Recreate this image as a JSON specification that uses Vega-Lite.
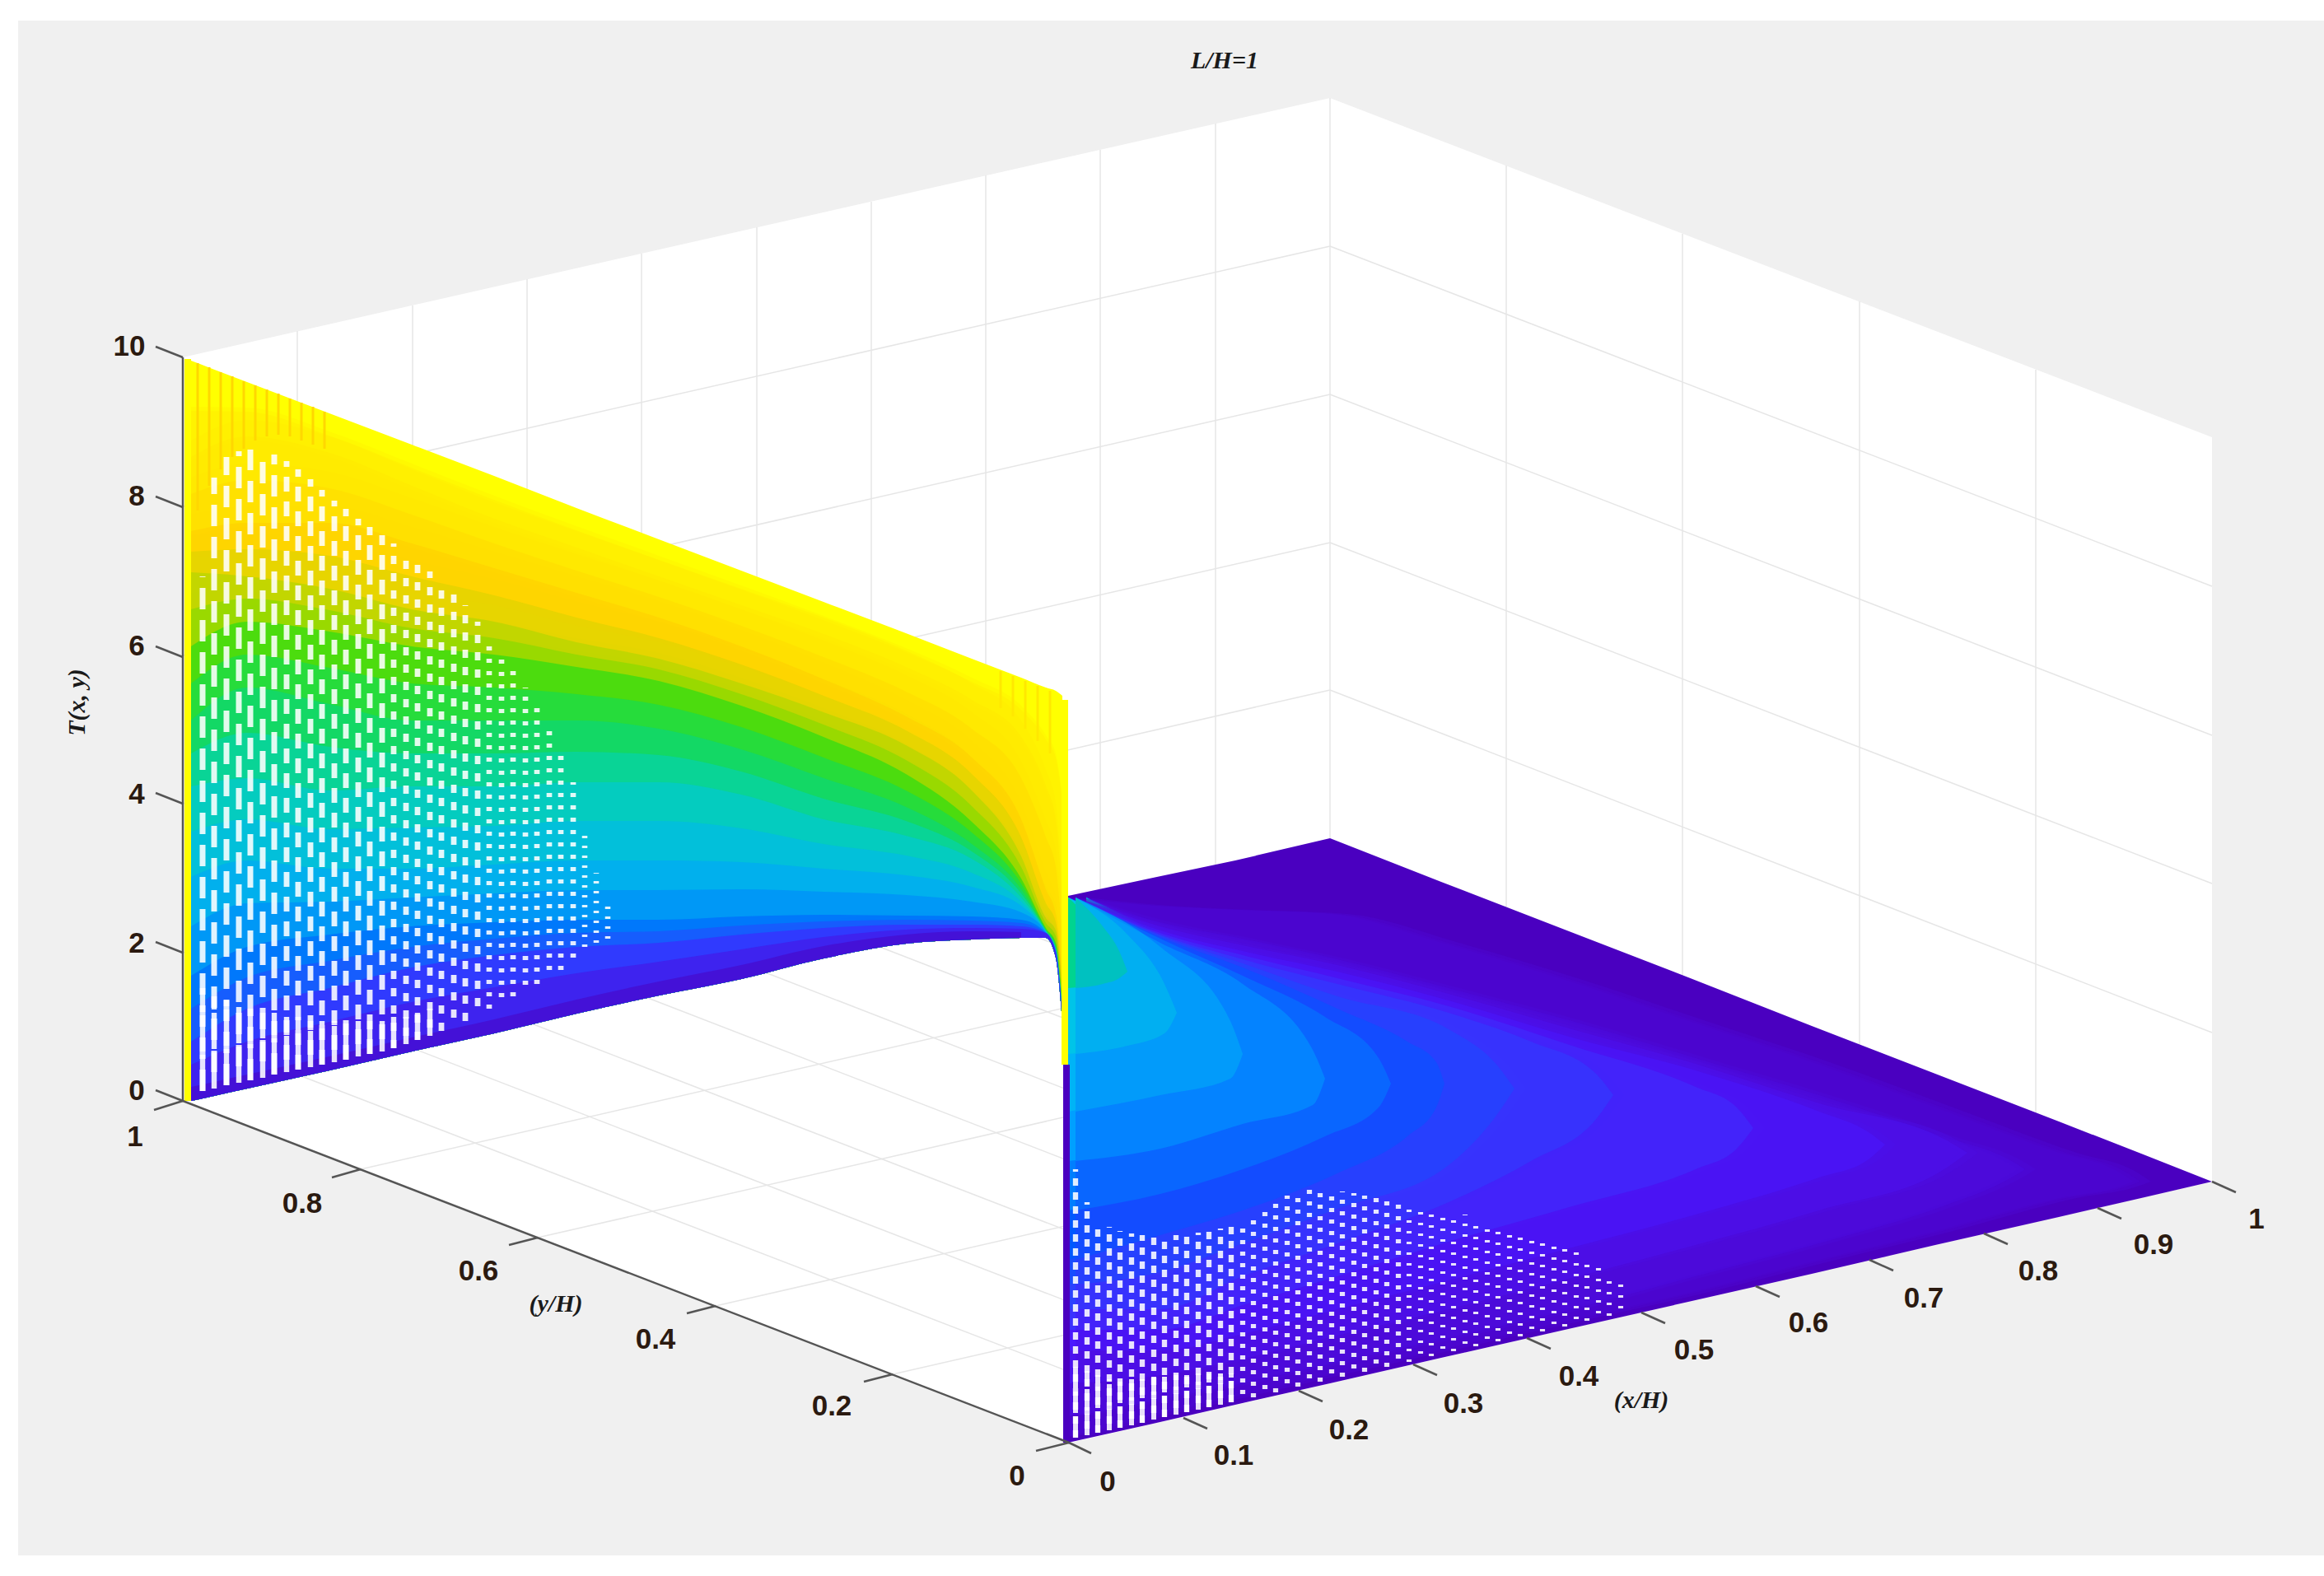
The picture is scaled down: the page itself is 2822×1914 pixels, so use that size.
{"$schema":"https://vega.github.io/schema/vega-lite/v6.json","width":2822,"height":1914,"padding":0,"autosize":{"type":"fit","contains":"padding"},"background":"white","config":{"view":{"stroke":null}},
"datasets":{
"wall":[
{"T":10,"u":232,"v":438,"w":1337},{"T":10,"u":300,"v":464,"w":1322},{"T":10,"u":400,"v":502,"w":1300},{"T":10,"u":500,"v":540,"w":1277},{"T":10,"u":600,"v":578,"w":1255},{"T":10,"u":700,"v":617,"w":1231},{"T":10,"u":800,"v":655,"w":1209},{"T":10,"u":900,"v":693,"w":1189},{"T":10,"u":1000,"v":731,"w":1164},{"T":10,"u":1100,"v":769,"w":1146},{"T":10,"u":1180,"v":800,"w":1141},{"T":10,"u":1240,"v":823,"w":1139},{"T":10,"u":1270,"v":835,"w":1139},{"T":10,"u":1282,"v":839,"w":1163},{"T":10,"u":1290,"v":845,"w":1239},
{"T":9.5,"u":232,"v":499,"w":1337},{"T":9.5,"u":300,"v":500,"w":1322},{"T":9.5,"u":400,"v":529,"w":1300},{"T":9.5,"u":500,"v":568,"w":1277},{"T":9.5,"u":600,"v":607,"w":1255},{"T":9.5,"u":700,"v":644,"w":1231},{"T":9.5,"u":800,"v":680,"w":1209},{"T":9.5,"u":900,"v":716,"w":1189},{"T":9.5,"u":1000,"v":753,"w":1164},{"T":9.5,"u":1100,"v":792,"w":1146},{"T":9.5,"u":1180,"v":828,"w":1141},{"T":9.5,"u":1240,"v":862,"w":1139},{"T":9.5,"u":1270,"v":898,"w":1139},{"T":9.5,"u":1282,"v":920,"w":1163},{"T":9.5,"u":1290,"v":972,"w":1239},
{"T":9,"u":232,"v":560,"w":1337},{"T":9,"u":300,"v":535,"w":1322},{"T":9,"u":400,"v":555,"w":1300},{"T":9,"u":500,"v":595,"w":1277},{"T":9,"u":600,"v":635,"w":1255},{"T":9,"u":700,"v":670,"w":1231},{"T":9,"u":800,"v":705,"w":1209},{"T":9,"u":900,"v":740,"w":1189},{"T":9,"u":1000,"v":775,"w":1164},{"T":9,"u":1100,"v":815,"w":1146},{"T":9,"u":1180,"v":855,"w":1141},{"T":9,"u":1240,"v":900,"w":1139},{"T":9,"u":1270,"v":960,"w":1139},{"T":9,"u":1282,"v":1000,"w":1163},{"T":9,"u":1290,"v":1100,"w":1239},
{"T":8.5,"u":232,"v":605,"w":1337},{"T":8.5,"u":300,"v":588,"w":1322},{"T":8.5,"u":400,"v":598,"w":1300},{"T":8.5,"u":500,"v":630,"w":1277},{"T":8.5,"u":600,"v":665,"w":1255},{"T":8.5,"u":700,"v":698,"w":1231},{"T":8.5,"u":800,"v":730,"w":1209},{"T":8.5,"u":900,"v":765,"w":1189},{"T":8.5,"u":1000,"v":803,"w":1164},{"T":8.5,"u":1100,"v":845,"w":1146},{"T":8.5,"u":1180,"v":890,"w":1141},{"T":8.5,"u":1240,"v":950,"w":1139},{"T":8.5,"u":1270,"v":1022,"w":1139},{"T":8.5,"u":1282,"v":1058,"w":1163},{"T":8.5,"u":1290,"v":1145,"w":1239},
{"T":8,"u":232,"v":650,"w":1337},{"T":8,"u":300,"v":640,"w":1322},{"T":8,"u":400,"v":640,"w":1300},{"T":8,"u":500,"v":665,"w":1277},{"T":8,"u":600,"v":695,"w":1255},{"T":8,"u":700,"v":725,"w":1231},{"T":8,"u":800,"v":755,"w":1209},{"T":8,"u":900,"v":790,"w":1189},{"T":8,"u":1000,"v":830,"w":1164},{"T":8,"u":1100,"v":875,"w":1146},{"T":8,"u":1180,"v":925,"w":1141},{"T":8,"u":1240,"v":1000,"w":1139},{"T":8,"u":1270,"v":1085,"w":1139},{"T":8,"u":1282,"v":1115,"w":1163},{"T":8,"u":1290,"v":1190,"w":1239},
{"T":7.5,"u":232,"v":675,"w":1337},{"T":7.5,"u":300,"v":672,"w":1322},{"T":7.5,"u":400,"v":680,"w":1300},{"T":7.5,"u":500,"v":705,"w":1277},{"T":7.5,"u":600,"v":728,"w":1255},{"T":7.5,"u":700,"v":755,"w":1231},{"T":7.5,"u":800,"v":780,"w":1209},{"T":7.5,"u":900,"v":812,"w":1189},{"T":7.5,"u":1000,"v":850,"w":1164},{"T":7.5,"u":1100,"v":892,"w":1146},{"T":7.5,"u":1180,"v":945,"w":1141},{"T":7.5,"u":1240,"v":1022,"w":1139},{"T":7.5,"u":1270,"v":1102,"w":1139},{"T":7.5,"u":1282,"v":1125,"w":1163},{"T":7.5,"u":1290,"v":1200,"w":1239},
{"T":7,"u":232,"v":700,"w":1337},{"T":7,"u":300,"v":705,"w":1322},{"T":7,"u":400,"v":720,"w":1300},{"T":7,"u":500,"v":745,"w":1277},{"T":7,"u":600,"v":760,"w":1255},{"T":7,"u":700,"v":785,"w":1231},{"T":7,"u":800,"v":805,"w":1209},{"T":7,"u":900,"v":835,"w":1189},{"T":7,"u":1000,"v":870,"w":1164},{"T":7,"u":1100,"v":910,"w":1146},{"T":7,"u":1180,"v":965,"w":1141},{"T":7,"u":1240,"v":1045,"w":1139},{"T":7,"u":1270,"v":1120,"w":1139},{"T":7,"u":1282,"v":1135,"w":1163},{"T":7,"u":1290,"v":1210,"w":1239},
{"T":6.5,"u":232,"v":745,"w":1337},{"T":6.5,"u":300,"v":732,"w":1322},{"T":6.5,"u":400,"v":746,"w":1300},{"T":6.5,"u":500,"v":768,"w":1277},{"T":6.5,"u":600,"v":780,"w":1255},{"T":6.5,"u":700,"v":800,"w":1231},{"T":6.5,"u":800,"v":818,"w":1209},{"T":6.5,"u":900,"v":848,"w":1189},{"T":6.5,"u":1000,"v":885,"w":1164},{"T":6.5,"u":1100,"v":928,"w":1146},{"T":6.5,"u":1180,"v":984,"w":1141},{"T":6.5,"u":1240,"v":1058,"w":1139},{"T":6.5,"u":1270,"v":1126,"w":1139},{"T":6.5,"u":1282,"v":1142,"w":1163},{"T":6.5,"u":1290,"v":1217,"w":1239},
{"T":6,"u":232,"v":790,"w":1337},{"T":6,"u":300,"v":760,"w":1322},{"T":6,"u":400,"v":772,"w":1300},{"T":6,"u":500,"v":790,"w":1277},{"T":6,"u":600,"v":800,"w":1255},{"T":6,"u":700,"v":815,"w":1231},{"T":6,"u":800,"v":832,"w":1209},{"T":6,"u":900,"v":862,"w":1189},{"T":6,"u":1000,"v":900,"w":1164},{"T":6,"u":1100,"v":945,"w":1146},{"T":6,"u":1180,"v":1003,"w":1141},{"T":6,"u":1240,"v":1072,"w":1139},{"T":6,"u":1270,"v":1132,"w":1139},{"T":6,"u":1282,"v":1150,"w":1163},{"T":6,"u":1290,"v":1225,"w":1239},
{"T":5.5,"u":232,"v":835,"w":1337},{"T":5.5,"u":300,"v":800,"w":1322},{"T":5.5,"u":400,"v":816,"w":1300},{"T":5.5,"u":500,"v":835,"w":1277},{"T":5.5,"u":600,"v":840,"w":1255},{"T":5.5,"u":700,"v":848,"w":1231},{"T":5.5,"u":800,"v":861,"w":1209},{"T":5.5,"u":900,"v":888,"w":1189},{"T":5.5,"u":1000,"v":925,"w":1164},{"T":5.5,"u":1100,"v":965,"w":1146},{"T":5.5,"u":1180,"v":1016,"w":1141},{"T":5.5,"u":1240,"v":1078,"w":1139},{"T":5.5,"u":1270,"v":1133,"w":1139},{"T":5.5,"u":1282,"v":1152,"w":1163},{"T":5.5,"u":1290,"v":1227,"w":1239},
{"T":5,"u":232,"v":880,"w":1337},{"T":5,"u":300,"v":840,"w":1322},{"T":5,"u":400,"v":860,"w":1300},{"T":5,"u":500,"v":880,"w":1277},{"T":5,"u":600,"v":880,"w":1255},{"T":5,"u":700,"v":880,"w":1231},{"T":5,"u":800,"v":890,"w":1209},{"T":5,"u":900,"v":915,"w":1189},{"T":5,"u":1000,"v":950,"w":1164},{"T":5,"u":1100,"v":985,"w":1146},{"T":5,"u":1180,"v":1030,"w":1141},{"T":5,"u":1240,"v":1085,"w":1139},{"T":5,"u":1270,"v":1135,"w":1139},{"T":5,"u":1282,"v":1155,"w":1163},{"T":5,"u":1290,"v":1230,"w":1239},
{"T":4.5,"u":232,"v":920,"w":1337},{"T":4.5,"u":300,"v":895,"w":1322},{"T":4.5,"u":400,"v":912,"w":1300},{"T":4.5,"u":500,"v":920,"w":1277},{"T":4.5,"u":600,"v":920,"w":1255},{"T":4.5,"u":700,"v":918,"w":1231},{"T":4.5,"u":800,"v":922,"w":1209},{"T":4.5,"u":900,"v":942,"w":1189},{"T":4.5,"u":1000,"v":975,"w":1164},{"T":4.5,"u":1100,"v":1002,"w":1146},{"T":4.5,"u":1180,"v":1039,"w":1141},{"T":4.5,"u":1240,"v":1090,"w":1139},{"T":4.5,"u":1270,"v":1135,"w":1139},{"T":4.5,"u":1282,"v":1156,"w":1163},{"T":4.5,"u":1290,"v":1231,"w":1239},
{"T":4,"u":232,"v":960,"w":1337},{"T":4,"u":300,"v":950,"w":1322},{"T":4,"u":400,"v":965,"w":1300},{"T":4,"u":500,"v":960,"w":1277},{"T":4,"u":600,"v":960,"w":1255},{"T":4,"u":700,"v":955,"w":1231},{"T":4,"u":800,"v":955,"w":1209},{"T":4,"u":900,"v":970,"w":1189},{"T":4,"u":1000,"v":1000,"w":1164},{"T":4,"u":1100,"v":1020,"w":1146},{"T":4,"u":1180,"v":1048,"w":1141},{"T":4,"u":1240,"v":1095,"w":1139},{"T":4,"u":1270,"v":1136,"w":1139},{"T":4,"u":1282,"v":1157,"w":1163},{"T":4,"u":1290,"v":1232,"w":1239},
{"T":3.5,"u":232,"v":1015,"w":1337},{"T":3.5,"u":300,"v":1000,"w":1322},{"T":3.5,"u":400,"v":1012,"w":1300},{"T":3.5,"u":500,"v":1010,"w":1277},{"T":3.5,"u":600,"v":1008,"w":1255},{"T":3.5,"u":700,"v":1002,"w":1231},{"T":3.5,"u":800,"v":1002,"w":1209},{"T":3.5,"u":900,"v":1011,"w":1189},{"T":3.5,"u":1000,"v":1030,"w":1164},{"T":3.5,"u":1100,"v":1044,"w":1146},{"T":3.5,"u":1180,"v":1065,"w":1141},{"T":3.5,"u":1240,"v":1100,"w":1139},{"T":3.5,"u":1270,"v":1136,"w":1139},{"T":3.5,"u":1282,"v":1158,"w":1163},{"T":3.5,"u":1290,"v":1233,"w":1239},
{"T":3,"u":232,"v":1070,"w":1337},{"T":3,"u":300,"v":1050,"w":1322},{"T":3,"u":400,"v":1060,"w":1300},{"T":3,"u":500,"v":1060,"w":1277},{"T":3,"u":600,"v":1055,"w":1255},{"T":3,"u":700,"v":1050,"w":1231},{"T":3,"u":800,"v":1050,"w":1209},{"T":3,"u":900,"v":1052,"w":1189},{"T":3,"u":1000,"v":1060,"w":1164},{"T":3,"u":1100,"v":1068,"w":1146},{"T":3,"u":1180,"v":1082,"w":1141},{"T":3,"u":1240,"v":1105,"w":1139},{"T":3,"u":1270,"v":1137,"w":1139},{"T":3,"u":1282,"v":1159,"w":1163},{"T":3,"u":1290,"v":1234,"w":1239},
{"T":2.5,"u":232,"v":1130,"w":1337},{"T":2.5,"u":300,"v":1102,"w":1322},{"T":2.5,"u":400,"v":1100,"w":1300},{"T":2.5,"u":500,"v":1095,"w":1277},{"T":2.5,"u":600,"v":1090,"w":1255},{"T":2.5,"u":700,"v":1086,"w":1231},{"T":2.5,"u":800,"v":1086,"w":1209},{"T":2.5,"u":900,"v":1085,"w":1189},{"T":2.5,"u":1000,"v":1088,"w":1164},{"T":2.5,"u":1100,"v":1092,"w":1146},{"T":2.5,"u":1180,"v":1100,"w":1141},{"T":2.5,"u":1240,"v":1113,"w":1139},{"T":2.5,"u":1270,"v":1137,"w":1139},{"T":2.5,"u":1282,"v":1159,"w":1163},{"T":2.5,"u":1290,"v":1235,"w":1239},
{"T":2,"u":232,"v":1190,"w":1337},{"T":2,"u":300,"v":1155,"w":1322},{"T":2,"u":400,"v":1140,"w":1300},{"T":2,"u":500,"v":1130,"w":1277},{"T":2,"u":600,"v":1125,"w":1255},{"T":2,"u":700,"v":1122,"w":1231},{"T":2,"u":800,"v":1122,"w":1209},{"T":2,"u":900,"v":1118,"w":1189},{"T":2,"u":1000,"v":1116,"w":1164},{"T":2,"u":1100,"v":1117,"w":1146},{"T":2,"u":1180,"v":1118,"w":1141},{"T":2,"u":1240,"v":1122,"w":1139},{"T":2,"u":1270,"v":1138,"w":1139},{"T":2,"u":1282,"v":1160,"w":1163},{"T":2,"u":1290,"v":1236,"w":1239},
{"T":1.5,"u":232,"v":1230,"w":1337},{"T":1.5,"u":300,"v":1192,"w":1322},{"T":1.5,"u":400,"v":1172,"w":1300},{"T":1.5,"u":500,"v":1155,"w":1277},{"T":1.5,"u":600,"v":1145,"w":1255},{"T":1.5,"u":700,"v":1138,"w":1231},{"T":1.5,"u":800,"v":1136,"w":1209},{"T":1.5,"u":900,"v":1129,"w":1189},{"T":1.5,"u":1000,"v":1124,"w":1164},{"T":1.5,"u":1100,"v":1122,"w":1146},{"T":1.5,"u":1180,"v":1123,"w":1141},{"T":1.5,"u":1240,"v":1126,"w":1139},{"T":1.5,"u":1270,"v":1138,"w":1139},{"T":1.5,"u":1282,"v":1160,"w":1163},{"T":1.5,"u":1290,"v":1236,"w":1239},
{"T":1,"u":232,"v":1270,"w":1337},{"T":1,"u":300,"v":1230,"w":1322},{"T":1,"u":400,"v":1205,"w":1300},{"T":1,"u":500,"v":1180,"w":1277},{"T":1,"u":600,"v":1165,"w":1255},{"T":1,"u":700,"v":1155,"w":1231},{"T":1,"u":800,"v":1150,"w":1209},{"T":1,"u":900,"v":1140,"w":1189},{"T":1,"u":1000,"v":1132,"w":1164},{"T":1,"u":1100,"v":1128,"w":1146},{"T":1,"u":1180,"v":1128,"w":1141},{"T":1,"u":1240,"v":1130,"w":1139},{"T":1,"u":1270,"v":1138,"w":1139},{"T":1,"u":1282,"v":1161,"w":1163},{"T":1,"u":1290,"v":1237,"w":1239},
{"T":0.5,"u":232,"v":1298,"w":1337},{"T":0.5,"u":300,"v":1270,"w":1322},{"T":0.5,"u":400,"v":1246,"w":1300},{"T":0.5,"u":500,"v":1222,"w":1277},{"T":0.5,"u":600,"v":1204,"w":1255},{"T":0.5,"u":700,"v":1187,"w":1231},{"T":0.5,"u":800,"v":1173,"w":1209},{"T":0.5,"u":900,"v":1158,"w":1189},{"T":0.5,"u":1000,"v":1143,"w":1164},{"T":0.5,"u":1100,"v":1134,"w":1146},{"T":0.5,"u":1180,"v":1132,"w":1141},{"T":0.5,"u":1240,"v":1133,"w":1139},{"T":0.5,"u":1270,"v":1138,"w":1139},{"T":0.5,"u":1282,"v":1162,"w":1163},{"T":0.5,"u":1290,"v":1238,"w":1239},
{"T":0,"u":232,"v":1325,"w":1337},{"T":0,"u":300,"v":1310,"w":1322},{"T":0,"u":400,"v":1288,"w":1300},{"T":0,"u":500,"v":1265,"w":1277},{"T":0,"u":600,"v":1243,"w":1255},{"T":0,"u":700,"v":1219,"w":1231},{"T":0,"u":800,"v":1197,"w":1209},{"T":0,"u":900,"v":1177,"w":1189},{"T":0,"u":1000,"v":1154,"w":1164},{"T":0,"u":1100,"v":1140,"w":1146},{"T":0,"u":1180,"v":1136,"w":1141},{"T":0,"u":1240,"v":1137,"w":1139}
],
"floor":[
{"T":0,"u":1297,"v":1088,"w":1752},{"T":0,"u":1400,"v":1066,"w":1729},{"T":0,"u":1500,"v":1045,"w":1706},{"T":0,"u":1615,"v":1018,"w":1680},{"T":0,"u":1750,"v":1071,"w":1649},{"T":0,"u":1900,"v":1129,"w":1615},{"T":0,"u":2050,"v":1187,"w":1581},{"T":0,"u":2200,"v":1246,"w":1547},{"T":0,"u":2350,"v":1304,"w":1512},{"T":0,"u":2500,"v":1362,"w":1478},{"T":0,"u":2600,"v":1401,"w":1455},{"T":0,"u":2686,"v":1435,"w":1435},
{"T":0.25,"u":1297,"v":1090,"w":1745},{"T":0.25,"u":1400,"v":1100,"w":1718},{"T":0.25,"u":1500,"v":1105,"w":1695},{"T":0.25,"u":1615,"v":1110,"w":1668},{"T":0.25,"u":1750,"v":1145,"w":1638},{"T":0.25,"u":1900,"v":1190,"w":1604},{"T":0.25,"u":2050,"v":1240,"w":1570},{"T":0.25,"u":2200,"v":1290,"w":1532},{"T":0.25,"u":2350,"v":1345,"w":1495},{"T":0.25,"u":2500,"v":1400,"w":1455},{"T":0.25,"u":2570,"v":1422,"w":1442},{"T":0.25,"u":2590,"v":1435,"w":1435},
{"T":0.5,"u":1297,"v":1090,"w":1720},{"T":0.5,"u":1400,"v":1120,"w":1700},{"T":0.5,"u":1500,"v":1140,"w":1680},{"T":0.5,"u":1615,"v":1165,"w":1655},{"T":0.5,"u":1750,"v":1200,"w":1625},{"T":0.5,"u":1900,"v":1240,"w":1590},{"T":0.5,"u":2050,"v":1285,"w":1550},{"T":0.5,"u":2200,"v":1330,"w":1510},{"T":0.5,"u":2350,"v":1380,"w":1465},{"T":0.5,"u":2430,"v":1408,"w":1432},{"T":0.5,"u":2450,"v":1420,"w":1420},
{"T":0.75,"u":1297,"v":1090,"w":1680},{"T":0.75,"u":1400,"v":1125,"w":1670},{"T":0.75,"u":1500,"v":1148,"w":1650},{"T":0.75,"u":1615,"v":1172,"w":1622},{"T":0.75,"u":1750,"v":1207,"w":1590},{"T":0.75,"u":1900,"v":1250,"w":1552},{"T":0.75,"u":2050,"v":1292,"w":1512},{"T":0.75,"u":2200,"v":1340,"w":1470},{"T":0.75,"u":2355,"v":1385,"w":1418},{"T":0.75,"u":2380,"v":1400,"w":1400},
{"T":1,"u":1297,"v":1090,"w":1640},{"T":1,"u":1400,"v":1130,"w":1640},{"T":1,"u":1500,"v":1155,"w":1620},{"T":1,"u":1615,"v":1180,"w":1590},{"T":1,"u":1750,"v":1215,"w":1555},{"T":1,"u":1900,"v":1260,"w":1515},{"T":1,"u":2050,"v":1300,"w":1475},{"T":1,"u":2200,"v":1350,"w":1430},{"T":1,"u":2260,"v":1375,"w":1408},{"T":1,"u":2280,"v":1390,"w":1390},
{"T":1.25,"u":1297,"v":1090,"w":1615},{"T":1.25,"u":1400,"v":1133,"w":1615},{"T":1.25,"u":1500,"v":1160,"w":1585},{"T":1.25,"u":1615,"v":1188,"w":1550},{"T":1.25,"u":1750,"v":1222,"w":1508},{"T":1.25,"u":1900,"v":1270,"w":1465},{"T":1.25,"u":2050,"v":1320,"w":1420},{"T":1.25,"u":2100,"v":1345,"w":1395},{"T":1.25,"u":2120,"v":1370,"w":1370},
{"T":1.5,"u":1297,"v":1090,"w":1590},{"T":1.5,"u":1400,"v":1135,"w":1590},{"T":1.5,"u":1500,"v":1165,"w":1550},{"T":1.5,"u":1615,"v":1195,"w":1510},{"T":1.5,"u":1750,"v":1230,"w":1460},{"T":1.5,"u":1850,"v":1265,"w":1410},{"T":1.5,"u":1930,"v":1305,"w":1358},{"T":1.5,"u":1950,"v":1330,"w":1330},
{"T":1.75,"u":1297,"v":1090,"w":1560},{"T":1.75,"u":1400,"v":1136,"w":1545},{"T":1.75,"u":1500,"v":1170,"w":1510},{"T":1.75,"u":1615,"v":1210,"w":1468},{"T":1.75,"u":1750,"v":1250,"w":1415},{"T":1.75,"u":1810,"v":1295,"w":1352},{"T":1.75,"u":1830,"v":1322,"w":1322},
{"T":2,"u":1297,"v":1090,"w":1530},{"T":2,"u":1400,"v":1138,"w":1500},{"T":2,"u":1500,"v":1175,"w":1470},{"T":2,"u":1615,"v":1225,"w":1425},{"T":2,"u":1700,"v":1265,"w":1380},{"T":2,"u":1735,"v":1290,"w":1345},{"T":2,"u":1745,"v":1316,"w":1316},
{"T":2.5,"u":1297,"v":1090,"w":1470},{"T":2.5,"u":1400,"v":1140,"w":1450},{"T":2.5,"u":1500,"v":1185,"w":1420},{"T":2.5,"u":1600,"v":1235,"w":1380},{"T":2.5,"u":1665,"v":1285,"w":1345},{"T":2.5,"u":1680,"v":1316,"w":1316},
{"T":3,"u":1297,"v":1090,"w":1410},{"T":3,"u":1400,"v":1145,"w":1395},{"T":3,"u":1500,"v":1195,"w":1365},{"T":3,"u":1585,"v":1275,"w":1342},{"T":3,"u":1600,"v":1310,"w":1310},
{"T":3.5,"u":1297,"v":1090,"w":1350},{"T":3.5,"u":1400,"v":1150,"w":1330},{"T":3.5,"u":1485,"v":1240,"w":1310},{"T":3.5,"u":1500,"v":1280,"w":1280},
{"T":4,"u":1297,"v":1090,"w":1280},{"T":4,"u":1360,"v":1135,"w":1270},{"T":4,"u":1405,"v":1195,"w":1255},{"T":4,"u":1420,"v":1230,"w":1230},
{"T":5,"u":1297,"v":1090,"w":1200},{"T":5,"u":1330,"v":1125,"w":1195},{"T":5,"u":1350,"v":1155,"w":1188},{"T":5,"u":1360,"v":1180,"w":1180}
]},
"encoding":{"x":{"field":"u","type":"quantitative","axis":null,"scale":{"domain":[0,2822],"nice":false,"zero":false}},"y":{"field":"v","type":"quantitative","axis":null,"scale":{"domain":[1914,0],"nice":false,"zero":false}}},
"layer":[
{"data":{"values":[{"u":22,"u2":2822,"v":25,"v2":1889}]},"mark":{"type":"rect","color":"#f0f0f0"},"encoding":{"x2":{"field":"u2"},"y2":{"field":"v2"}}},
{"data":{"values":[{"u":222,"v":434,"w":1337},{"u":1300,"v":190,"w":1752},{"u":1615,"v":119,"w":1680},{"u":2686,"v":531,"w":1435}]},"mark":{"type":"area","color":"white"},"encoding":{"y2":{"field":"w"}}},
{"data":{"values":[
{"u":361,"v":402,"u2":361,"v2":1305},{"u":501,"v":371,"u2":501,"v2":1273},{"u":640,"v":339,"u2":640,"v2":1241},{"u":779,"v":308,"u2":779,"v2":1209},{"u":919,"v":276,"u2":919,"v2":1177},{"u":1058,"v":245,"u2":1058,"v2":1146},{"u":1197,"v":213,"u2":1197,"v2":1114},{"u":1336,"v":182,"u2":1336,"v2":1082},{"u":1476,"v":150,"u2":1476,"v2":1050},{"u":1615,"v":119,"u2":1615,"v2":1018},
{"u":222,"v":615,"u2":1615,"v2":299},{"u":222,"v":796,"u2":1615,"v2":479},{"u":222,"v":976,"u2":1615,"v2":659},{"u":222,"v":1157,"u2":1615,"v2":838},
{"u":1615,"v":299,"u2":2686,"v2":712},{"u":1615,"v":479,"u2":2686,"v2":893},{"u":1615,"v":659,"u2":2686,"v2":1073},{"u":1615,"v":838,"u2":2686,"v2":1254},
{"u":1829,"v":201,"u2":1829,"v2":1101},{"u":2043,"v":284,"u2":2043,"v2":1185},{"u":2258,"v":366,"u2":2258,"v2":1269},{"u":2472,"v":449,"u2":2472,"v2":1352},
{"u":1084,"v":1669,"u2":2472,"v2":1352},{"u":869,"v":1586,"u2":2258,"v2":1268},{"u":653,"v":1503,"u2":2043,"v2":1185},{"u":438,"v":1420,"u2":1829,"v2":1101},
{"u":1439,"v":1720,"u2":361,"v2":1305},{"u":1577,"v":1689,"u2":501,"v2":1273},{"u":1716,"v":1657,"u2":640,"v2":1241},{"u":1854,"v":1625,"u2":779,"v2":1209},{"u":1993,"v":1594,"u2":919,"v2":1177},{"u":2132,"v":1562,"u2":1058,"v2":1146},{"u":2270,"v":1530,"u2":1197,"v2":1114},{"u":2409,"v":1498,"u2":1336,"v2":1082},{"u":2547,"v":1467,"u2":1476,"v2":1050}
]},"mark":{"type":"rule","color":"#e6e6e6","strokeWidth":1.5},"encoding":{"x2":{"field":"u2"},"y2":{"field":"v2"}}},
{"data":{"name":"wall"},"mark":{"type":"area","interpolate":"monotone"},"encoding":{"y2":{"field":"w"},"detail":{"field":"T","type":"nominal"},"color":{"field":"T","type":"quantitative","legend":null,"scale":{"domain":[0,1,2,3,4,5,6,7,8,9,10],"range":["#4a00c0","#4a18ff","#0058ff","#00a0ff","#00c4e8","#00d490","#00e01c","#a0d800","#ffcc00","#ffe800","#ffff00"]}}}},
{"data":{"name":"wall"},"transform":[{"filter":"datum.T<=9"}],"mark":{"type":"area","interpolate":"monotone","opacity":0.5,"yOffset":-25},"encoding":{"y2":{"field":"w"},"detail":{"field":"T","type":"nominal"},"color":{"field":"T","type":"quantitative","legend":null,"scale":{"domain":[0,1,2,3,4,5,6,7,8,9,10],"range":["#4a00c0","#4a18ff","#0058ff","#00a0ff","#00c4e8","#00d490","#00e01c","#a0d800","#ffcc00","#ffe800","#ffff00"]}}}},
{"data":{"name":"wall"},"transform":[{"filter":"datum.T<=9.5"}],"mark":{"type":"area","interpolate":"monotone","opacity":0.5,"yOffset":-5},"encoding":{"y2":{"field":"w"},"detail":{"field":"T","type":"nominal"},"color":{"field":"T","type":"quantitative","legend":null,"scale":{"domain":[0,1,2,3,4,5,6,7,8,9,10],"range":["#4a00c0","#4a18ff","#0058ff","#00a0ff","#00c4e8","#00d490","#00e01c","#a0d800","#ffcc00","#ffe800","#ffff00"]}}}},
{"data":{"name":"floor"},"transform":[{"filter":"datum.T==0"}],"mark":{"type":"area"},"encoding":{"y2":{"field":"w"},"color":{"value":"#4a00c0"}}},
{"data":{"name":"floor"},"transform":[{"filter":"datum.T>0"}],"mark":{"type":"area","interpolate":"monotone"},"encoding":{"y2":{"field":"w"},"detail":{"field":"T","type":"nominal"},"color":{"field":"T","type":"quantitative","legend":null,"scale":{"domain":[0,1,2,3,4,5,6,7,8,9,10],"range":["#4a00c0","#4a18ff","#0058ff","#00a0ff","#00c4e8","#00d490","#00e01c","#a0d800","#ffcc00","#ffe800","#ffff00"]}}}},
{"data":{"name":"floor"},"transform":[{"filter":"datum.T>0"}],"mark":{"type":"area","interpolate":"monotone","opacity":0.5,"xOffset":22},"encoding":{"y2":{"field":"w"},"detail":{"field":"T","type":"nominal"},"color":{"field":"T","type":"quantitative","legend":null,"scale":{"domain":[0,1,2,3,4,5,6,7,8,9,10],"range":["#4a00c0","#4a18ff","#0058ff","#00a0ff","#00c4e8","#00d490","#00e01c","#a0d800","#ffcc00","#ffe800","#ffff00"]}}}},
{"data":{"name":"floor"},"transform":[{"filter":"datum.T>0"}],"mark":{"type":"area","interpolate":"monotone","opacity":0.5,"xOffset":9},"encoding":{"y2":{"field":"w"},"detail":{"field":"T","type":"nominal"},"color":{"field":"T","type":"quantitative","legend":null,"scale":{"domain":[0,1,2,3,4,5,6,7,8,9,10],"range":["#4a00c0","#4a18ff","#0058ff","#00a0ff","#00c4e8","#00d490","#00e01c","#a0d800","#ffcc00","#ffe800","#ffff00"]}}}},
{"data":{"values":[
{"u":246,"v":1325,"z":"a"},{"u":246,"v":700,"z":"a"},{"u":260,"v":1302,"z":"a"},{"u":260,"v":580,"z":"a"},{"u":275,"v":1318,"z":"a"},{"u":275,"v":555,"z":"a"},{"u":290,"v":1295,"z":"a"},{"u":290,"v":548,"z":"a"},{"u":304,"v":1312,"z":"a"},{"u":304,"v":546,"z":"a"},{"u":319,"v":1289,"z":"a"},{"u":319,"v":548,"z":"a"},{"u":333,"v":1305,"z":"a"},{"u":333,"v":552,"z":"a"},
{"u":348,"v":1287,"z":"b"},{"u":348,"v":560,"z":"b"},{"u":362,"v":1299,"z":"b"},{"u":362,"v":570,"z":"b"},{"u":377,"v":1281,"z":"b"},{"u":377,"v":582,"z":"b"},{"u":391,"v":1293,"z":"b"},{"u":391,"v":595,"z":"b"},{"u":406,"v":1275,"z":"b"},{"u":406,"v":608,"z":"b"},{"u":420,"v":1287,"z":"b"},{"u":420,"v":618,"z":"b"},{"u":435,"v":1268,"z":"b"},{"u":435,"v":630,"z":"b"},{"u":449,"v":1280,"z":"b"},{"u":449,"v":640,"z":"b"},{"u":464,"v":1262,"z":"b"},{"u":464,"v":650,"z":"b"},
{"u":478,"v":1273,"z":"c"},{"u":478,"v":660,"z":"c"},{"u":493,"v":1258,"z":"c"},{"u":493,"v":670,"z":"c"},{"u":507,"v":1263,"z":"c"},{"u":507,"v":682,"z":"c"},{"u":522,"v":1248,"z":"c"},{"u":522,"v":694,"z":"c"},{"u":536,"v":1252,"z":"c"},{"u":536,"v":708,"z":"c"},{"u":551,"v":1236,"z":"c"},{"u":551,"v":722,"z":"c"},{"u":565,"v":1240,"z":"c"},{"u":565,"v":735,"z":"c"},{"u":580,"v":1222,"z":"c"},{"u":580,"v":755,"z":"c"},
{"u":594,"v":1225,"z":"d"},{"u":594,"v":775,"z":"d"},{"u":609,"v":1211,"z":"d"},{"u":609,"v":795,"z":"d"},{"u":623,"v":1210,"z":"d"},{"u":623,"v":815,"z":"d"},{"u":638,"v":1196,"z":"d"},{"u":638,"v":835,"z":"d"},{"u":652,"v":1195,"z":"d"},{"u":652,"v":855,"z":"d"},{"u":667,"v":1178,"z":"d"},{"u":667,"v":880,"z":"d"},{"u":681,"v":1178,"z":"d"},{"u":681,"v":910,"z":"d"},{"u":696,"v":1163,"z":"d"},{"u":696,"v":950,"z":"d"},{"u":710,"v":1150,"z":"h"},{"u":710,"v":1010,"z":"h"},{"u":724,"v":1145,"z":"h"},{"u":724,"v":1060,"z":"h"},{"u":738,"v":1140,"z":"h"},{"u":738,"v":1095,"z":"h"},
{"u":246,"v":1325,"z":"s"},{"u":246,"v":1200,"z":"s"},{"u":260,"v":1322,"z":"s"},{"u":260,"v":1210,"z":"s"},{"u":275,"v":1318,"z":"s"},{"u":275,"v":1215,"z":"s"},{"u":290,"v":1315,"z":"s"},{"u":290,"v":1220,"z":"s"},{"u":304,"v":1312,"z":"s"},{"u":304,"v":1225,"z":"s"},{"u":319,"v":1309,"z":"s"},{"u":319,"v":1230,"z":"s"},{"u":333,"v":1305,"z":"s"},{"u":333,"v":1230,"z":"s"},{"u":348,"v":1302,"z":"s"},{"u":348,"v":1235,"z":"s"},{"u":362,"v":1299,"z":"s"},{"u":362,"v":1235,"z":"s"},{"u":377,"v":1296,"z":"s"},{"u":377,"v":1240,"z":"s"},{"u":391,"v":1293,"z":"s"},{"u":391,"v":1240,"z":"s"},{"u":406,"v":1290,"z":"s"},{"u":406,"v":1240,"z":"s"},{"u":420,"v":1287,"z":"s"},{"u":420,"v":1240,"z":"s"},{"u":435,"v":1283,"z":"s"},{"u":435,"v":1240,"z":"s"},{"u":449,"v":1280,"z":"s"},{"u":449,"v":1240,"z":"s"},{"u":464,"v":1277,"z":"s"},{"u":464,"v":1240,"z":"s"},{"u":478,"v":1273,"z":"s"},{"u":478,"v":1235,"z":"s"},{"u":493,"v":1268,"z":"s"},{"u":493,"v":1235,"z":"s"},{"u":507,"v":1263,"z":"s"},{"u":507,"v":1230,"z":"s"},{"u":522,"v":1258,"z":"s"},{"u":522,"v":1225,"z":"s"},
{"u":1306,"v":1746,"z":"e"},{"u":1306,"v":1420,"z":"e"},{"u":1320,"v":1735,"z":"e"},{"u":1320,"v":1460,"z":"e"},{"u":1333,"v":1740,"z":"e"},{"u":1333,"v":1485,"z":"e"},{"u":1347,"v":1729,"z":"e"},{"u":1347,"v":1490,"z":"e"},{"u":1360,"v":1734,"z":"e"},{"u":1360,"v":1495,"z":"e"},{"u":1374,"v":1723,"z":"e"},{"u":1374,"v":1498,"z":"e"},{"u":1387,"v":1728,"z":"e"},{"u":1387,"v":1500,"z":"e"},{"u":1401,"v":1716,"z":"e"},{"u":1401,"v":1500,"z":"e"},{"u":1414,"v":1721,"z":"e"},{"u":1414,"v":1500,"z":"e"},{"u":1428,"v":1710,"z":"e"},{"u":1428,"v":1500,"z":"e"},{"u":1441,"v":1715,"z":"e"},{"u":1441,"v":1498,"z":"e"},{"u":1455,"v":1704,"z":"e"},{"u":1455,"v":1497,"z":"e"},{"u":1468,"v":1709,"z":"e"},{"u":1468,"v":1495,"z":"e"},{"u":1482,"v":1698,"z":"e"},{"u":1482,"v":1492,"z":"e"},{"u":1495,"v":1703,"z":"e"},{"u":1495,"v":1488,"z":"e"},
{"u":1509,"v":1693,"z":"f"},{"u":1509,"v":1485,"z":"f"},{"u":1522,"v":1697,"z":"f"},{"u":1522,"v":1475,"z":"f"},{"u":1536,"v":1687,"z":"f"},{"u":1536,"v":1465,"z":"f"},{"u":1549,"v":1691,"z":"f"},{"u":1549,"v":1458,"z":"f"},{"u":1563,"v":1680,"z":"f"},{"u":1563,"v":1452,"z":"f"},{"u":1576,"v":1684,"z":"f"},{"u":1576,"v":1448,"z":"f"},{"u":1590,"v":1674,"z":"f"},{"u":1590,"v":1445,"z":"f"},{"u":1603,"v":1678,"z":"f"},{"u":1603,"v":1444,"z":"f"},{"u":1617,"v":1668,"z":"f"},{"u":1617,"v":1445,"z":"f"},{"u":1630,"v":1672,"z":"f"},{"u":1630,"v":1447,"z":"f"},{"u":1644,"v":1662,"z":"f"},{"u":1644,"v":1449,"z":"f"},{"u":1657,"v":1666,"z":"f"},{"u":1657,"v":1452,"z":"f"},{"u":1671,"v":1656,"z":"f"},{"u":1671,"v":1455,"z":"f"},{"u":1684,"v":1660,"z":"f"},{"u":1684,"v":1458,"z":"f"},{"u":1698,"v":1650,"z":"f"},{"u":1698,"v":1460,"z":"f"},
{"u":1711,"v":1654,"z":"g"},{"u":1711,"v":1463,"z":"g"},{"u":1725,"v":1644,"z":"g"},{"u":1725,"v":1466,"z":"g"},{"u":1738,"v":1647,"z":"g"},{"u":1738,"v":1468,"z":"g"},{"u":1752,"v":1638,"z":"g"},{"u":1752,"v":1470,"z":"g"},{"u":1765,"v":1641,"z":"g"},{"u":1765,"v":1473,"z":"g"},{"u":1779,"v":1632,"z":"g"},{"u":1779,"v":1475,"z":"g"},{"u":1792,"v":1635,"z":"g"},{"u":1792,"v":1480,"z":"g"},{"u":1806,"v":1626,"z":"g"},{"u":1806,"v":1485,"z":"g"},{"u":1819,"v":1629,"z":"g"},{"u":1819,"v":1488,"z":"g"},{"u":1833,"v":1620,"z":"g"},{"u":1833,"v":1491,"z":"g"},{"u":1846,"v":1623,"z":"g"},{"u":1846,"v":1495,"z":"g"},{"u":1860,"v":1614,"z":"g"},{"u":1860,"v":1500,"z":"g"},{"u":1873,"v":1617,"z":"g"},{"u":1873,"v":1505,"z":"g"},{"u":1887,"v":1608,"z":"g"},{"u":1887,"v":1508,"z":"g"},{"u":1900,"v":1611,"z":"g"},{"u":1900,"v":1510,"z":"g"},{"u":1914,"v":1602,"z":"g"},{"u":1914,"v":1520,"z":"g"},{"u":1927,"v":1604,"z":"g"},{"u":1927,"v":1530,"z":"g"},{"u":1941,"v":1595,"z":"g"},{"u":1941,"v":1540,"z":"g"},{"u":1954,"v":1598,"z":"g"},{"u":1954,"v":1550,"z":"g"},{"u":1968,"v":1589,"z":"g"},{"u":1968,"v":1560,"z":"g"},
{"u":1306,"v":1746,"z":"t"},{"u":1306,"v":1660,"z":"t"},{"u":1320,"v":1743,"z":"t"},{"u":1320,"v":1665,"z":"t"},{"u":1333,"v":1740,"z":"t"},{"u":1333,"v":1670,"z":"t"},{"u":1347,"v":1737,"z":"t"},{"u":1347,"v":1675,"z":"t"},{"u":1360,"v":1734,"z":"t"},{"u":1360,"v":1675,"z":"t"},{"u":1374,"v":1731,"z":"t"},{"u":1374,"v":1675,"z":"t"},{"u":1387,"v":1728,"z":"t"},{"u":1387,"v":1675,"z":"t"},{"u":1401,"v":1724,"z":"t"},{"u":1401,"v":1672,"z":"t"},{"u":1414,"v":1721,"z":"t"},{"u":1414,"v":1672,"z":"t"},{"u":1428,"v":1718,"z":"t"},{"u":1428,"v":1670,"z":"t"},{"u":1441,"v":1715,"z":"t"},{"u":1441,"v":1670,"z":"t"},{"u":1455,"v":1712,"z":"t"},{"u":1455,"v":1668,"z":"t"},{"u":1468,"v":1709,"z":"t"},{"u":1468,"v":1668,"z":"t"},{"u":1482,"v":1706,"z":"t"},{"u":1482,"v":1668,"z":"t"},{"u":1495,"v":1703,"z":"t"},{"u":1495,"v":1668,"z":"t"}
]},"mark":{"type":"line","color":"white","opacity":0.88},"encoding":{"detail":{"field":"u","type":"nominal"},"strokeWidth":{"field":"z","type":"nominal","legend":null,"scale":{"domain":["a","b","c","d","h","s","e","f","g","t"],"range":[7,6,5,3.6,2.4,4.5,3,2.2,1.6,3.2]}},"strokeDash":{"field":"z","type":"nominal","legend":null,"scale":{"domain":["a","b","c","d","h","s","e","f","g","t"],"range":[[26,13],[18,12],[10,11],[5,10],[3,9],[44,4],[9,8],[5,9],[3,10],[26,4]]}}}},
{"data":{"values":[
{"T":8.4,"u":240,"v":441,"u2":240,"v2":620},{"T":8.4,"u":254,"v":446,"u2":254,"v2":590},{"T":8.4,"u":268,"v":452,"u2":268,"v2":570},{"T":8.4,"u":282,"v":457,"u2":282,"v2":555},{"T":8.4,"u":296,"v":463,"u2":296,"v2":545},{"T":8.4,"u":310,"v":468,"u2":310,"v2":535},{"T":8.4,"u":324,"v":473,"u2":324,"v2":530},{"T":8.4,"u":338,"v":478,"u2":338,"v2":528},{"T":8.4,"u":352,"v":484,"u2":352,"v2":530},{"T":8.4,"u":366,"v":489,"u2":366,"v2":535},{"T":8.4,"u":380,"v":494,"u2":380,"v2":540},{"T":8.4,"u":394,"v":500,"u2":394,"v2":545},
{"T":9,"u":1215,"v":815,"u2":1215,"v2":860},{"T":9,"u":1230,"v":821,"u2":1230,"v2":870},{"T":9,"u":1245,"v":827,"u2":1245,"v2":885},{"T":9,"u":1260,"v":833,"u2":1260,"v2":900},{"T":9,"u":1275,"v":839,"u2":1275,"v2":915}
]},"mark":{"type":"rule","strokeWidth":3},"encoding":{"x2":{"field":"u2"},"y2":{"field":"v2"},"color":{"field":"T","type":"quantitative","legend":null,"scale":{"domain":[0,1,2,3,4,5,6,7,8,9,10],"range":["#4a00c0","#4a18ff","#0058ff","#00a0ff","#00c4e8","#00d490","#00e01c","#a0d800","#ffcc00","#ffe800","#ffff00"]}}}},
{"data":{"values":[{"T":10,"u":228,"v":436,"u2":228,"v2":1337},{"T":10,"u":1293,"v":850,"u2":1293,"v2":1293},{"T":0,"u":1295,"v":1293,"u2":1295,"v2":1752}]},"mark":{"type":"rule","strokeWidth":8},"encoding":{"x2":{"field":"u2"},"y2":{"field":"v2"},"color":{"field":"T","type":"quantitative","legend":null,"scale":{"domain":[0,1,2,3,4,5,6,7,8,9,10],"range":["#4a00c0","#4a18ff","#0058ff","#00a0ff","#00c4e8","#00d490","#00e01c","#a0d800","#ffcc00","#ffe800","#ffff00"]}}}},
{"data":{"values":[
{"u":222,"v":434,"u2":222,"v2":1337},{"u":222,"v":1337,"u2":1298,"v2":1752},
{"u":222,"v":434,"u2":189,"v2":421},{"u":222,"v":616,"u2":189,"v2":603},{"u":222,"v":798,"u2":189,"v2":785},{"u":222,"v":976,"u2":189,"v2":963},{"u":222,"v":1157,"u2":189,"v2":1144},{"u":222,"v":1337,"u2":189,"v2":1324},
{"u":222,"v":1337,"u2":187,"v2":1348},{"u":438,"v":1420,"u2":403,"v2":1430},{"u":653,"v":1503,"u2":618,"v2":1512},{"u":869,"v":1586,"u2":834,"v2":1595},{"u":1084,"v":1669,"u2":1049,"v2":1678},{"u":1298,"v":1752,"u2":1258,"v2":1762},
{"u":1298,"v":1752,"u2":1325,"v2":1765},{"u":1437,"v":1722,"u2":1466,"v2":1735},{"u":1577,"v":1689,"u2":1606,"v2":1702},{"u":1716,"v":1657,"u2":1745,"v2":1670},{"u":1854,"v":1625,"u2":1883,"v2":1638},{"u":1993,"v":1594,"u2":2022,"v2":1607},{"u":2132,"v":1562,"u2":2161,"v2":1575},{"u":2270,"v":1530,"u2":2299,"v2":1543},{"u":2409,"v":1498,"u2":2438,"v2":1511},{"u":2547,"v":1467,"u2":2576,"v2":1480},{"u":2686,"v":1435,"u2":2715,"v2":1448}
]},"mark":{"type":"rule","color":"#555555","strokeWidth":2.5},"encoding":{"x2":{"field":"u2"},"y2":{"field":"v2"}}},
{"data":{"values":[
{"u":157,"v":421,"t":"10"},{"u":166,"v":603,"t":"8"},{"u":166,"v":785,"t":"6"},{"u":166,"v":965,"t":"4"},{"u":166,"v":1146,"t":"2"},{"u":166,"v":1325,"t":"0"},
{"u":164,"v":1381,"t":"1"},{"u":367,"v":1462,"t":"0.8"},{"u":581,"v":1544,"t":"0.6"},{"u":796,"v":1627,"t":"0.4"},{"u":1010,"v":1708,"t":"0.2"},{"u":1235,"v":1793,"t":"0"},
{"u":1345,"v":1800,"t":"0"},{"u":1498,"v":1768,"t":"0.1"},{"u":1638,"v":1737,"t":"0.2"},{"u":1777,"v":1705,"t":"0.3"},{"u":1917,"v":1672,"t":"0.4"},{"u":2057,"v":1640,"t":"0.5"},{"u":2196,"v":1607,"t":"0.6"},{"u":2336,"v":1577,"t":"0.7"},{"u":2475,"v":1544,"t":"0.8"},{"u":2615,"v":1512,"t":"0.9"},{"u":2740,"v":1481,"t":"1"}
]},"mark":{"type":"text","font":"Liberation Sans","fontSize":35,"fontWeight":"bold","color":"#2b1a10","align":"center","baseline":"middle"},"encoding":{"text":{"field":"t"}}},
{"data":{"values":[{"u":1487,"v":74,"t":"L/H=1"},{"u":675,"v":1584,"t":"(y/H)"},{"u":1993,"v":1701,"t":"(x/H)"}]},"mark":{"type":"text","font":"Liberation Serif","fontSize":30,"fontWeight":"bold","fontStyle":"italic","color":"#1a1a1a","align":"center","baseline":"middle"},"encoding":{"text":{"field":"t"}}},
{"data":{"values":[{"u":94,"v":853,"t":"T(x, y)"}]},"mark":{"type":"text","font":"Liberation Serif","fontSize":30,"fontWeight":"bold","fontStyle":"italic","color":"#1a1a1a","align":"center","baseline":"middle","angle":270},"encoding":{"text":{"field":"t"}}}
]}
